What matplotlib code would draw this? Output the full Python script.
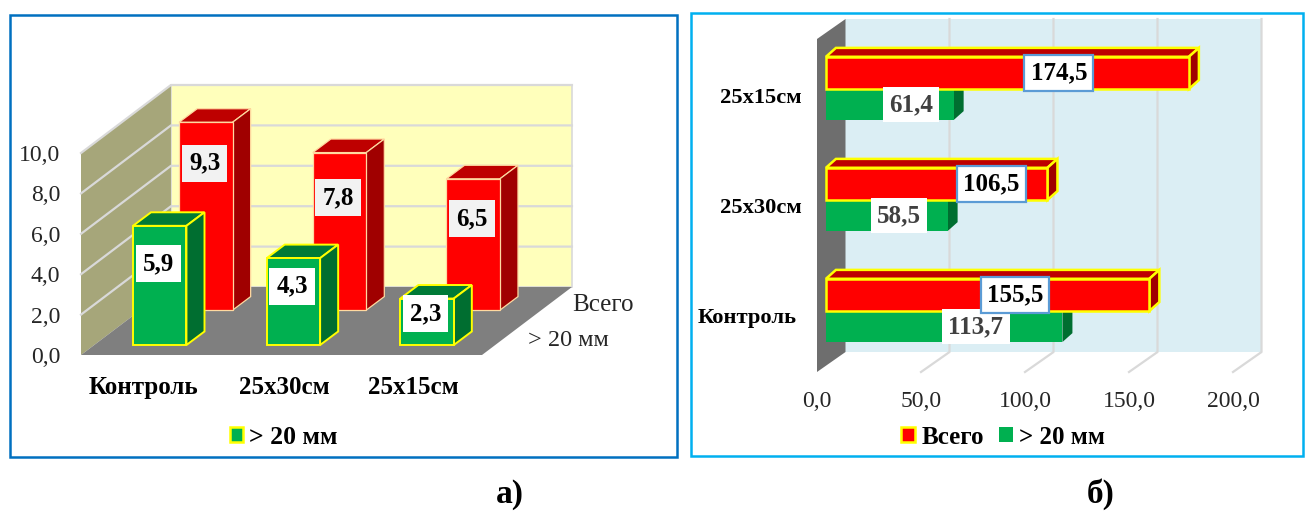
import matplotlib
matplotlib.use("Agg")
import matplotlib.pyplot as plt
from matplotlib.patches import Polygon, Patch, Rectangle

W, H = 1306, 512
SERIF = "Liberation Serif"
plt.rcParams["font.family"] = SERIF

categories_a = ["Контроль", "25x30см", "25x15см"]
total_a = [9.3, 7.8, 6.5]
over20_a = [5.9, 4.3, 2.3]
yticks_a = [0, 2, 4, 6, 8, 10]

categories_b = ["Контроль", "25x30см", "25x15см"]
total_b = [155.5, 106.5, 174.5]
over20_b = [113.7, 58.5, 61.4]
xticks_b = [0, 50, 100, 150, 200]

# how far each label sits below the bar top, in value units
drop_total_a = [2.03, 2.23, 1.98]
drop_over20_a = [1.88, 1.39, 0.74]
# label centres along the value axis of the horizontal chart
pos_total_b = [95.2, 83.7, 116.3]
pos_over20_b = [76.4, 39.4, 45.2]

RED = ("#FF0000", "#BE0000", "#A00000")
GREEN = ("#00B050", "#007A37", "#006E30")


def comma(v):
    return f"{v:.1f}".replace(".", ",")


def axes_px(fig, left, top, right, bottom):
    ax = fig.add_axes([left / W, 1 - bottom / H, (right - left) / W, (bottom - top) / H])
    ax.patch.set_visible(False)
    for s in ax.spines.values():
        s.set_visible(False)
    return ax


def poly(ax, pts, color, edge="none", lw=0.0, z=1.0):
    ax.add_patch(Polygon(pts, closed=True, facecolor=color, edgecolor=edge,
                         linewidth=lw, zorder=z, clip_on=False, joinstyle="miter"))


def box3d(ax, x0, y0, x1, y1, dx, dy, colors, edge, lw):
    front, top, side = colors
    poly(ax, [(x0, y1), (x1, y1), (x1 + dx, y1 + dy), (x0 + dx, y1 + dy)], top, edge, lw, 2)
    poly(ax, [(x1, y0), (x1 + dx, y0 + dy), (x1 + dx, y1 + dy), (x1, y1)], side, edge, lw, 2)
    poly(ax, [(x0, y0), (x1, y0), (x1, y1), (x0, y1)], front, edge, lw, 2)


def px_text(fig, x, y, s, **kw):
    fig.text(x / W, 1 - y / H, s, ha=kw.pop("ha", "center"), va="center", **kw)


fig = plt.figure(figsize=(W / 100, H / 100), dpi=100)

# panel frames
fig.add_artist(Rectangle((10 / W, 1 - 457 / H), 667 / W, 442 / H, transform=fig.transFigure,
                         fill=False, edgecolor="#0070C0", linewidth=1.8))
fig.add_artist(Rectangle((691 / W, 1 - 456 / H), 612 / W, 443 / H, transform=fig.transFigure,
                         fill=False, edgecolor="#00B0F0", linewidth=1.8))

# ---- chart a: 3D columns
ax = axes_px(fig, 81, 153, 482, 355)
ax.set_xlim(0, 3)
ax.set_ylim(0, 10)
DX, DY = 0.673, 3.366

poly(ax, [(DX, DY), (3 + DX, DY), (3 + DX, 10 + DY), (DX, 10 + DY)], "#FFFFBB", "#D9D9D9", 1.2)
poly(ax, [(0, 0), (DX, DY), (DX, 10 + DY), (0, 10)], "#A6A67A")
poly(ax, [(0, 0), (3, 0), (3 + DX, DY), (DX, DY)], "#7F7F7F")
for v in yticks_a[1:]:
    ax.plot([0, DX, 3 + DX], [v, v + DY, v + DY], color="#D9D9D9", lw=1.6, zorder=1.5, clip_on=False)

ax.set_yticks(yticks_a, [comma(v) for v in yticks_a], fontsize=17, color="#262626")
ax.set_xticks([0.47, 1.52, 2.49], categories_a, fontsize=18, fontweight="bold")
ax.tick_params(length=0)
ax.tick_params(axis="y", pad=15)
ax.tick_params(axis="x", pad=15)

rows = [(0.66, total_a, RED, "#FFD9A0", 0.9, drop_total_a, "#F2F2F2"),
        (0.147, over20_a, GREEN, "#FFFF00", 1.4, drop_over20_a, "#FFFFFF")]
for z, values, colors, edge, lw, drops, box in rows:
    for i, v in enumerate(values):
        x0 = i + 0.29 + z * DX
        y0 = z * DY
        box3d(ax, x0, y0, x0 + 0.4, y0 + v, 0.135, 0.67, colors, edge, lw)
        ax.text(x0 + 0.2 - 0.01, y0 + v - drops[i], comma(v), ha="center", va="center",
                fontsize=18, fontweight="bold", color="black", zorder=5,
                bbox=dict(boxstyle="square,pad=0.28", fc=box, ec="none"))

px_text(fig, 603, 305, "Всего", fontsize=18, color="#262626")
px_text(fig, 568, 341, "> 20 мм", fontsize=17.5, color="#262626")

fig.legend(handles=[Patch(facecolor=GREEN[0], edgecolor="#FFFF00", linewidth=1.8, label="> 20 мм")],
           loc="center", bbox_to_anchor=(284 / W, 1 - 437 / H), frameon=False,
           handlelength=0.5, handleheight=0.5, handletextpad=0.25,
           prop={"family": SERIF, "weight": "bold", "size": 18.5})

# ---- chart b: horizontal 3D bars
bx = axes_px(fig, 817, 39, 1233, 372)
bx.set_xlim(0, 200)
bx.set_ylim(0, 3)
DXB, DYB = 13.7, 0.18

poly(bx, [(DXB, DYB), (200 + DXB, DYB), (200 + DXB, 3 + DYB), (DXB, 3 + DYB)], "#DBEEF4")
poly(bx, [(0, 0), (DXB, DYB), (DXB, 3 + DYB), (0, 3)], "#6E6E6E")
for v in xticks_b[1:]:
    bx.plot([v, v + DXB, v + DXB], [0, DYB, 3 + DYB], color="#D9D9D9", lw=1.6, zorder=1.5, clip_on=False)

bx.set_xticks(xticks_b, [comma(v) for v in xticks_b], fontsize=17, color="#262626")
bx.set_yticks([])
bx.tick_params(length=0)
bx.tick_params(axis="x", pad=14)

px_text(fig, 761, 98, categories_b[2], fontsize=16.2, fontweight="bold")
px_text(fig, 761, 208, categories_b[1], fontsize=16.2, fontweight="bold")
px_text(fig, 747, 318, categories_b[0], fontsize=16.2, fontweight="bold")

for i in range(3):
    box3d(bx, 4.3, i + 0.27, 4.3 + over20_b[i], i + 0.55, 4.8, 0.08, GREEN, "none", 0)
    box3d(bx, 4.3, i + 0.55, 4.3 + total_b[i], i + 0.84, 4.8, 0.08, RED, "#FFFF00", 1.8)
    bx.text(pos_over20_b[i], i + 0.41, comma(over20_b[i]), ha="center", va="center",
            fontsize=18, fontweight="bold", color="#404040", zorder=5,
            bbox=dict(boxstyle="square,pad=0.25", fc="white", ec="none"))
    bx.text(pos_total_b[i], i + 0.695, comma(total_b[i]), ha="center", va="center",
            fontsize=18, fontweight="bold", color="black", zorder=5,
            bbox=dict(boxstyle="square,pad=0.25", fc="white", ec="#5B9BD5", lw=1.6))

fig.legend(handles=[Patch(facecolor=RED[0], edgecolor="#FFFF00", linewidth=1.8, label="Всего"),
                    Patch(facecolor=GREEN[0], edgecolor="none", label="> 20 мм")],
           loc="center", bbox_to_anchor=(1003 / W, 1 - 437 / H), frameon=False, ncol=2,
           handlelength=0.55, handleheight=0.55, handletextpad=0.25, columnspacing=0.6,
           prop={"family": SERIF, "weight": "bold", "size": 18})

# sub-figure captions
px_text(fig, 510, 494, "а)", fontsize=24, fontweight="bold")
px_text(fig, 1101, 494, "б)", fontsize=24, fontweight="bold")

fig.savefig("out.png", dpi=100)
